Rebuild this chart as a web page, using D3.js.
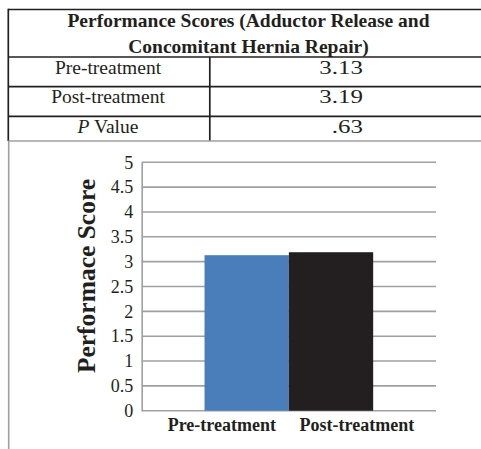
<!DOCTYPE html>
<html>
<head>
<meta charset="utf-8">
<script src="https://cdn.jsdelivr.net/npm/d3@7"></script>
<style>
  html, body { margin: 0; padding: 0; background: #fff; }
  svg { display: block; }
  text { font-family: "Liberation Serif", "Times New Roman", serif; fill: #231f20; }
</style>
</head>
<body>
<svg id="chart" width="481" height="449"></svg>
<script>
// Summary table
const tableTitle = ["Performance Scores (Adductor Release and", "Concomitant Hernia Repair)"];
const tableRows = [
  { label: "Pre-treatment", value: "3.13" },
  { label: "Post-treatment", value: "3.19" },
  { label: "P Value", value: ".63" }
];

// Bar chart data
const categories = ["Pre-treatment", "Post-treatment"];
const scores = [3.13, 3.19];
const barColors = ["#4a7ebb", "#231f20"];
const yTicks = [0, 0.5, 1, 1.5, 2, 2.5, 3, 3.5, 4, 4.5, 5];
const yTitle = "Performace Score";

const svg = d3.select("#chart");

// ---- table ----
const tbl = { left: 8.3, right: 490, divX: 209.8, bottom: 141 };
const ruleYs = [9.5, 57, 86.7, 116.3];
const g = svg.append("g");
const lineCol = "#231f20";

// horizontal rules
g.selectAll("line.h").data(ruleYs).join("line")
  .attr("x1", tbl.left).attr("x2", tbl.right)
  .attr("y1", d => d).attr("y2", d => d)
  .attr("stroke", lineCol).attr("stroke-width", 1.7);

// left border and column divider
g.append("line").attr("x1", tbl.left).attr("x2", tbl.left)
  .attr("y1", ruleYs[0] - 0.8).attr("y2", tbl.bottom)
  .attr("stroke", lineCol).attr("stroke-width", 1.7);
g.append("line").attr("x1", tbl.divX).attr("x2", tbl.divX)
  .attr("y1", ruleYs[1]).attr("y2", tbl.bottom)
  .attr("stroke", lineCol).attr("stroke-width", 1.7);

// title
g.selectAll("text.title").data(tableTitle).join("text")
  .attr("x", 248.5).attr("y", (d, i) => 27 + i * 25.5)
  .attr("text-anchor", "middle")
  .attr("font-size", 19.5).attr("font-weight", "bold")
  .text(d => d);

// rows
const rowTops = ruleYs.slice(1);
const rows = g.selectAll("g.row").data(tableRows).join("g")
  .attr("transform", (d, i) => `translate(0,${rowTops[i]})`);
rows.append("text")
  .attr("x", 108).attr("y", 16.5)
  .attr("text-anchor", "middle").attr("font-size", 19.5)
  .each(function(d) {
    const t = d3.select(this);
    if (d.label.startsWith("P ")) {
      t.append("tspan").attr("font-style", "italic").text("P");
      t.append("tspan").text(" Value");
    } else {
      t.text(d.label);
    }
  });
// values use a wide numeral setting, right-aligned
rows.append("text")
  .attr("transform", "translate(363,16.5) scale(1.28,1)")
  .attr("text-anchor", "end").attr("font-size", 19.5)
  .text(d => d.value);

// chart frame (grey)
const frameCol = "#a0a0a4";
svg.append("line").attr("x1", tbl.left).attr("x2", 481)
  .attr("y1", tbl.bottom).attr("y2", tbl.bottom)
  .attr("stroke", frameCol).attr("stroke-width", 1.7);
svg.append("line").attr("x1", 8.7).attr("x2", 8.7)
  .attr("y1", tbl.bottom).attr("y2", 449)
  .attr("stroke", frameCol).attr("stroke-width", 1.6);

// ---- bar chart ----
const plot = { left: 141.7, right: 436, top: 162.3, bottom: 410.7 };

const y = d3.scaleLinear().domain([0, 5]).range([plot.bottom, plot.top]);
const x = d3.scaleBand().domain(categories)
  .range([plot.left, plot.right]).paddingInner(0).paddingOuter(0.745);
const xLabel = d3.scalePoint().domain(categories)
  .range([plot.left, plot.right]).padding(0.59);

const chart = svg.append("g");

// gridlines
chart.append("g").selectAll("line").data(yTicks).join("line")
  .attr("x1", plot.left).attr("x2", plot.right)
  .attr("y1", d => y(d)).attr("y2", d => y(d))
  .attr("stroke", frameCol).attr("stroke-width", 1.6);

// bars
chart.append("g").selectAll("rect").data(scores).join("rect")
  .attr("x", (d, i) => x(categories[i]))
  .attr("width", x.bandwidth())
  .attr("y", d => y(d))
  .attr("height", d => y(0) - y(d))
  .attr("fill", (d, i) => barColors[i]);

// y axis
const yAxis = chart.append("g")
  .attr("transform", `translate(${plot.left},0)`)
  .call(d3.axisLeft(y).tickValues(yTicks).tickSize(0).tickPadding(8.5)
    .tickFormat(d3.format("")));
yAxis.select(".domain").attr("stroke", frameCol).attr("stroke-width", 1.6);
yAxis.selectAll("text").attr("font-size", 18)
  .attr("font-family", "Liberation Serif, serif").attr("fill", "#231f20");

// x axis labels
const xAxis = chart.append("g")
  .attr("transform", `translate(0,${plot.bottom})`)
  .call(d3.axisBottom(xLabel).tickSize(0).tickPadding(8));
xAxis.select(".domain").remove();
xAxis.selectAll("text").attr("font-size", 18).attr("font-weight", "bold")
  .attr("font-family", "Liberation Serif, serif").attr("fill", "#231f20");

// y axis title
svg.append("text")
  .attr("transform", `translate(95,276) rotate(-90)`)
  .attr("text-anchor", "middle")
  .attr("font-size", 25.5).attr("font-weight", "bold")
  .text(yTitle);
</script>
</body>
</html>
